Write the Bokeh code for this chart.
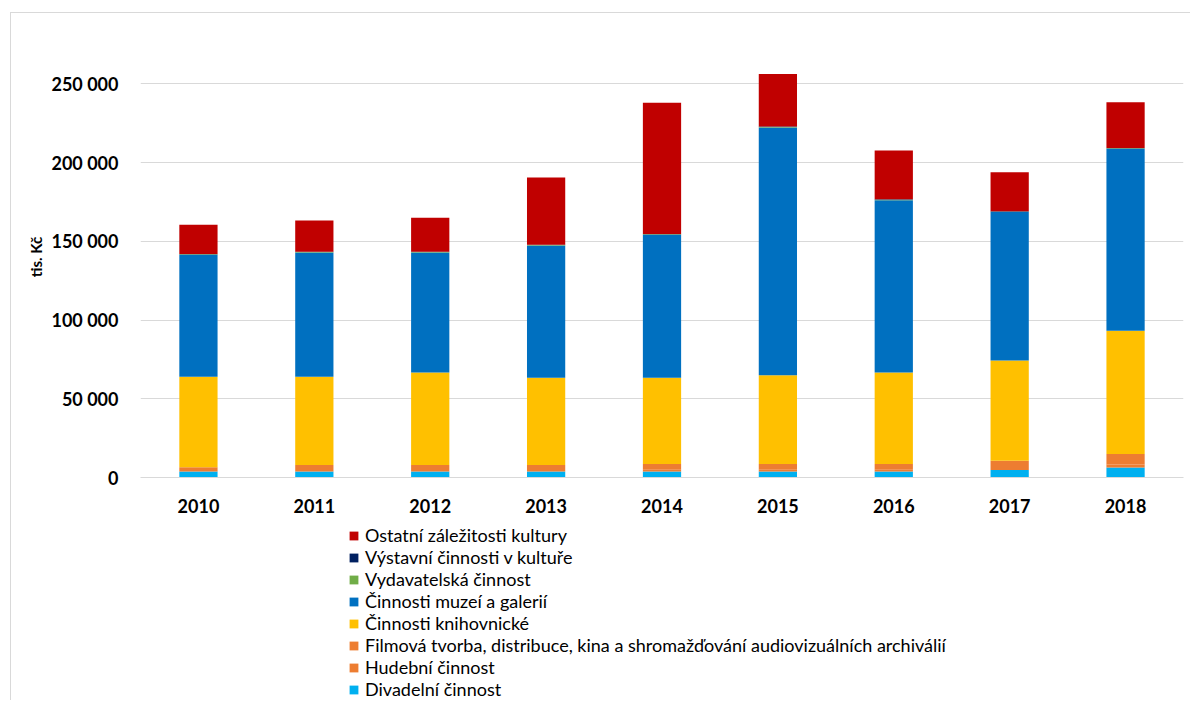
from bokeh.plotting import figure
from bokeh.layouts import column
from bokeh.models import ColumnDataSource, Legend, LegendItem, CustomJSTickFormatter, FixedTicker, Range1d
from bokeh.embed import file_html
from bokeh.resources import INLINE

years = ["2010", "2011", "2012", "2013", "2014", "2015", "2016", "2017", "2018"]
divadelni = [3800, 3800, 3800, 3800, 3800, 3800, 3800, 4700, 6400]
hudebni = [900, 1000, 1000, 1000, 1100, 1100, 1100, 1300, 1800]
filmova = [1800, 3200, 3200, 3200, 3700, 3700, 3700, 4600, 6700]
knihovnicke = [57500, 56000, 58700, 55300, 54700, 56400, 58100, 63700, 78300]
muzea = [77400, 78900, 76200, 84000, 90800, 157300, 109400, 94200, 115500]
vydavatelska = [300, 300, 300, 300, 300, 300, 300, 300, 300]
vystavni = [200, 200, 200, 200, 200, 200, 200, 200, 200]
ostatni = [18600, 19700, 21600, 42600, 83400, 33400, 31000, 24800, 29000]

series = ["divadelni", "hudebni", "filmova", "knihovnicke", "muzea", "vydavatelska", "vystavni", "ostatni"]
labels = ["Divadelní činnost", "Hudební činnost",
          "Filmová tvorba, distribuce, kina a shromažďování audiovizuálních archiválií",
          "Činnosti knihovnické", "Činnosti muzeí a galerií", "Vydavatelská činnost",
          "Výstavní činnosti v kultuře", "Ostatní záležitosti kultury"]
colors = ["#00B0F0", "#ED7D31", "#ED7D31", "#FFC000", "#0070C0", "#70AD47", "#002060", "#C00000"]

source = ColumnDataSource(dict(years=years, divadelni=divadelni, hudebni=hudebni, filmova=filmova,
                               knihovnicke=knihovnicke, muzea=muzea, vydavatelska=vydavatelska,
                               vystavni=vystavni, ostatni=ostatni))

p = figure(x_range=years, y_range=Range1d(0, 280000), width=1179, height=514,
           output_backend="svg", toolbar_location=None,
           min_border_left=129, min_border_right=7, min_border_top=23, min_border_bottom=50)

p.vbar_stack(series, x="years", width=0.33, color=colors, line_color=None, source=source)

p.outline_line_color = None
p.xgrid.grid_line_color = None
p.ygrid.grid_line_color = "#d9d9d9"
p.ygrid.grid_line_width = 1

p.yaxis.ticker = FixedTicker(ticks=[0, 50000, 100000, 150000, 200000, 250000])
p.yaxis.formatter = CustomJSTickFormatter(code="return tick.toFixed(0).replace(/\\B(?=(\\d{3})+(?!\\d))/g, ' ');")
p.yaxis.axis_line_color = None
p.yaxis.major_tick_line_color = None
p.yaxis.minor_tick_line_color = None
p.yaxis.major_label_standoff = 16
p.yaxis.major_label_text_font = "Lato"
p.yaxis.major_label_text_font_style = "bold"
p.yaxis.major_label_text_font_size = "18px"
p.yaxis.major_label_text_color = "#000000"
p.yaxis.axis_label = "tis. Kč"
p.yaxis.axis_label_text_font = "Lato"
p.yaxis.axis_label_text_font_style = "bold"
p.yaxis.axis_label_text_font_size = "15px"
p.yaxis.axis_label_text_color = "#000000"
p.yaxis.axis_label_standoff = 3

p.xaxis.axis_line_color = "#d9d9d9"
p.xaxis.major_tick_line_color = None
p.xaxis.minor_tick_line_color = None
p.xaxis.major_label_standoff = 15
p.xaxis.major_label_text_font = "Lato"
p.xaxis.major_label_text_font_style = "bold"
p.xaxis.major_label_text_font_size = "18px"
p.xaxis.major_label_text_color = "#000000"

# legend panel: same stacked series with zero-width bars outside the visible range,
# so only the legend entries are drawn
lg = figure(width=1179, height=173, x_range=years, y_range=Range1d(-2000000, -1000000),
            x_axis_type=None, y_axis_type=None, output_backend="svg", toolbar_location=None,
            min_border_left=0, min_border_right=0, min_border_top=0, min_border_bottom=0)
lg.outline_line_color = None
lg.xgrid.grid_line_color = None
lg.ygrid.grid_line_color = None
lg_renderers = lg.vbar_stack(series, x="years", width=0, color=colors, line_color=None, source=source)
items = [LegendItem(label=labels[i], renderers=[lg_renderers[i]]) for i in reversed(range(len(series)))]
legend = Legend(items=items, location=(208, 0), orientation="vertical",
                label_text_font="Lato", label_text_font_size="18px", label_text_color="#000000",
                glyph_width=11, glyph_height=11, label_height=17, spacing=0,
                padding=0, margin=0, border_line_color=None, background_fill_alpha=0,
                label_standoff=6)
lg.add_layout(legend, "center")

layout = column(p, lg, spacing=0)
layout.styles = {"border-top": "1px solid #d9d9d9", "border-left": "1px solid #d9d9d9",
                 "margin-left": "10px", "margin-top": "12px"}

open("out.html", "w").write(file_html(layout, INLINE))
